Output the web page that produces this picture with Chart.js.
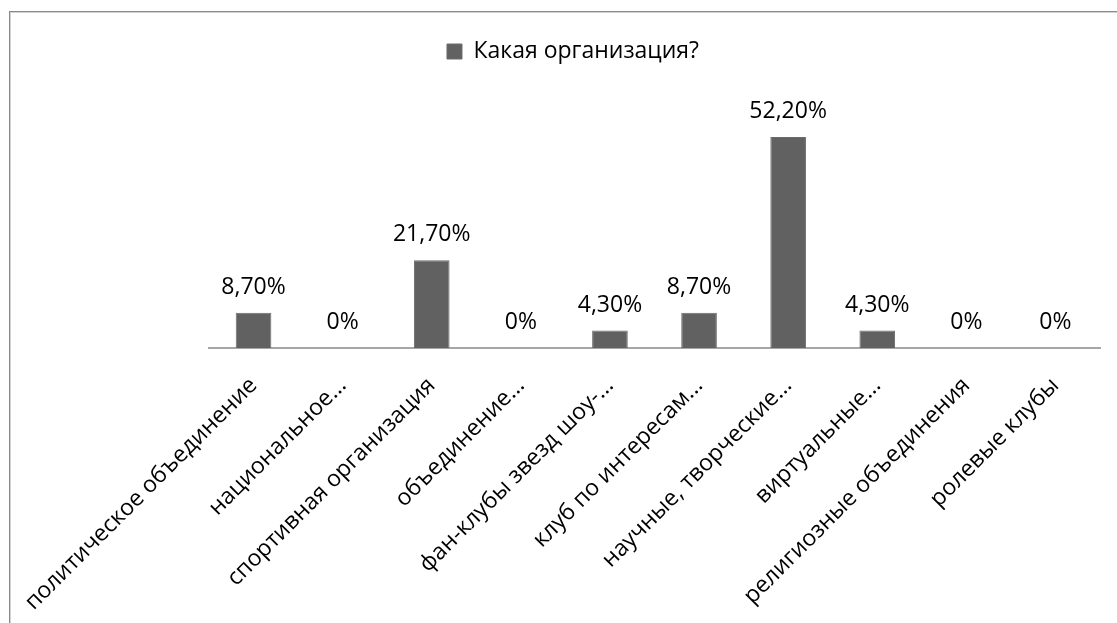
<!DOCTYPE html>
<html lang="ru">
<head>
  <meta charset="UTF-8" />
  <title>Какая организация?</title>
  <script src="https://cdn.jsdelivr.net/npm/chart.js"></script>
  <style>
    html, body {
      margin: 0;
      padding: 0;
      width: 1117px;
      height: 623px;
      background: #fff;
      overflow: hidden;
    }
    .frame {
      position: absolute;
      left: 9px;
      top: 11px;
      width: 1300px;
      height: 800px;
      border-left: 1px solid #8a8a8a;
      border-top: 1px solid #8a8a8a;
      box-shadow: inset 1px 1px 0 #d2d2d2;
      pointer-events: none;
    }
    .chart-box {
      position: absolute;
      left: 0;
      top: 0;
      width: 1146px;
      height: 623px;
    }
    canvas { display: block; }
  </style>
</head>
<body>
  <div class="chart-box">
    <canvas id="orgChart" width="1146" height="623"></canvas>
  </div>
  <div class="frame"></div>
  <script>
    const seriesName = 'Какая организация?';
    const categories = [
      'политическое объединение',
      'национальное...',
      'спортивная организация',
      'объединение...',
      'фан-клубы звезд шоу-...',
      'клуб по интересам...',
      'научные, творческие...',
      'виртуальные...',
      'религиозные объединения',
      'ролевые клубы'
    ];
    const shares = [8.7, 0, 21.7, 0, 4.3, 8.7, 52.2, 4.3, 0, 0];

    const barColor = '#616161';
    const fontFamily = '"Open Sans", "Noto Sans", sans-serif';

    function formatShare(v) {
      return v === 0 ? '0%' : v.toFixed(2).replace('.', ',') + '%';
    }

    // value labels above every bar
    const valueLabels = {
      id: 'valueLabels',
      afterDatasetsDraw(chart) {
        const ctx = chart.ctx;
        const meta = chart.getDatasetMeta(0);
        ctx.save();
        ctx.font = '23px ' + fontFamily;
        ctx.fillStyle = '#000';
        ctx.textAlign = 'center';
        ctx.textBaseline = 'alphabetic';
        meta.data.forEach((bar, i) => {
          ctx.fillText(formatShare(shares[i]), bar.x, bar.y - 19);
        });
        ctx.restore();
      }
    };

    const hiddenAxis = (pos, w) => ({
      type: 'linear',
      position: pos,
      display: true,
      ticks: { display: false },
      grid: { display: false },
      border: { display: false },
      afterFit: s => { s.width = w; }
    });

    new Chart(document.getElementById('orgChart'), {
      type: 'bar',
      data: {
        labels: categories,
        datasets: [{
          label: seriesName,
          data: shares,
          backgroundColor: barColor,
          borderColor: '#6c6c6c',
          borderWidth: 1,
          categoryPercentage: 1,
          barPercentage: 0.4,
          yAxisID: 'y'
        }]
      },
      plugins: [valueLabels],
      options: {
        responsive: false,
        animation: false,
        layout: { padding: 0 },
        plugins: {
          legend: {
            display: true,
            position: 'top',
            labels: {
              boxWidth: 15,
              boxHeight: 15,
              padding: 40,
              color: '#000',
              font: { family: fontFamily, size: 23 }
            }
          },
          tooltip: { enabled: false }
        },
        scales: {
          x: {
            grid: { display: false, drawTicks: false },
            border: { display: true, color: '#a6a6a6', width: 2 },
            ticks: {
              color: '#000',
              font: { family: fontFamily, size: 23 },
              minRotation: 45,
              maxRotation: 45,
              autoSkip: false,
              padding: 24
            },
            // fixed axis height; long rotated labels must not push the plot area
            afterFit: s => {
              s.height = 275;
              s.paddingLeft = 0;
              s.paddingRight = 0;
            }
          },
          y: Object.assign(hiddenAxis('left', 209), { min: 0, max: 68 }),
          y2: hiddenAxis('right', 46)
        }
      }
    });
  </script>
</body>
</html>
